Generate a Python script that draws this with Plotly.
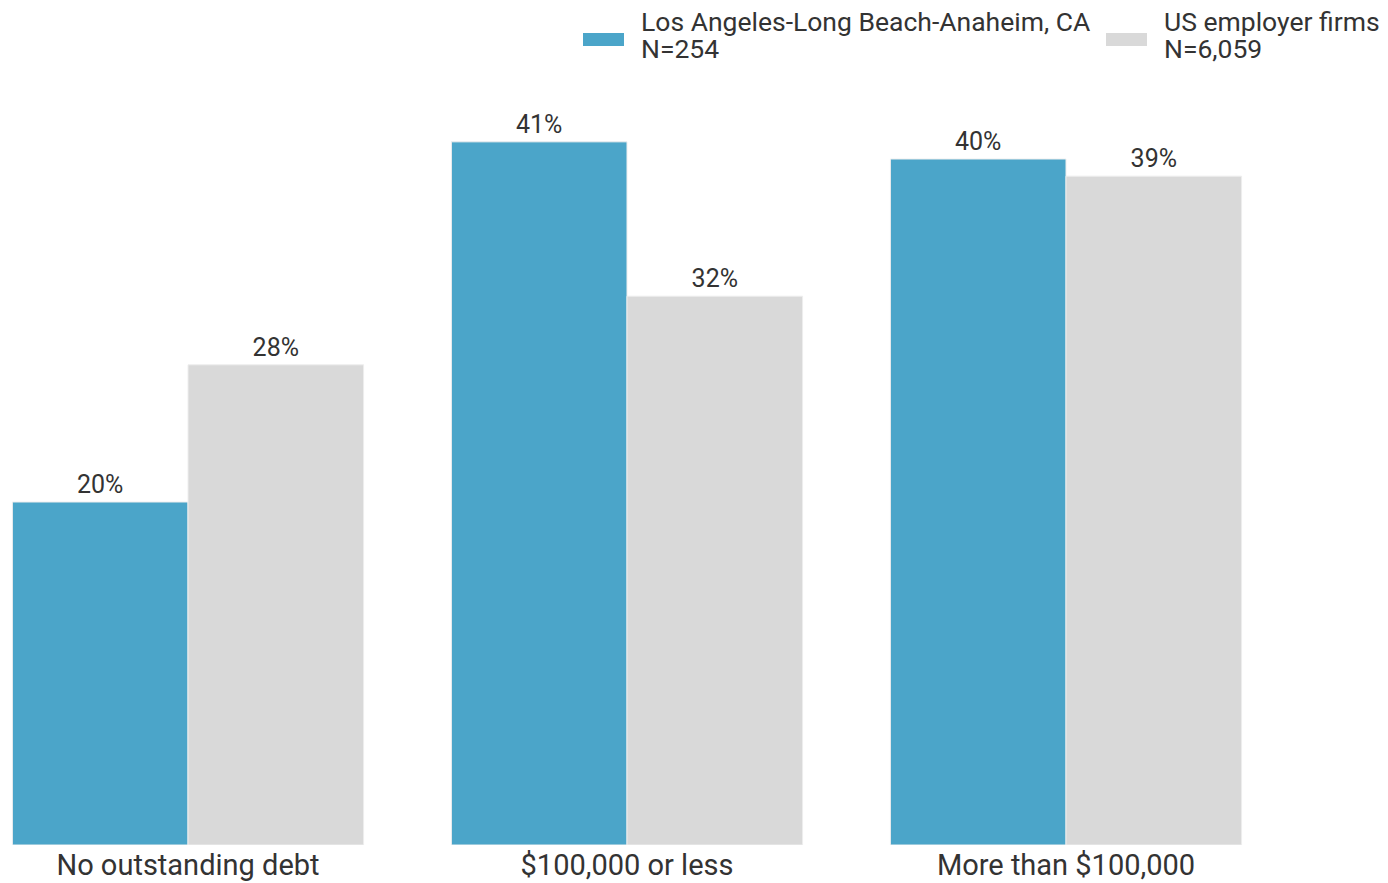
import plotly.graph_objects as go

categories = ["No outstanding debt", "$100,000 or less", "More than $100,000"]
series_names = ["Los Angeles-Long Beach-Anaheim, CA", "US employer firms"]
series_n = ["N=254", "N=6,059"]
la_values = [20, 41, 40]
us_values = [28, 32, 39]
colors = ["#4BA5C9", "#D9D9D9"]

FONT = "Roboto"
TXT = "#333333"

W, H = 1380, 875          # page body adds 8px offset
T, B = 72, 38
PH = H - T - B            # plot height in px
PX_PER_PCT = 17.15

def py(y):  # figure pixel y -> paper coordinate
    return (H - B - y) / PH

fig = go.Figure()
for name, vals, col in [(series_names[0], la_values, colors[0]), (series_names[1], us_values, colors[1])]:
    fig.add_trace(go.Bar(
        x=categories, y=vals, name=name,
        marker=dict(color=col, line=dict(color="#EEEEEE", width=1)),
        text=[f"{v}%" for v in vals], textposition="outside",
        textfont=dict(family=FONT, size=25, color=TXT),
        cliponaxis=False, showlegend=False,
    ))

# custom legend (wide swatches, two-line labels)
legend_x = [575, 1098]
for i in range(2):
    fig.add_shape(type="rect", xref="paper", yref="paper",
                  x0=legend_x[i] / W, x1=(legend_x[i] + 41) / W,
                  y0=py(38), y1=py(25),
                  fillcolor=colors[i], line=dict(width=0))
    for txt, yc in [(series_names[i], 13), (series_n[i], 41)]:
        fig.add_annotation(xref="paper", yref="paper", x=(legend_x[i] + 56) / W,
                           y=py(yc), xanchor="left", yanchor="middle",
                           text=txt, showarrow=False, align="left",
                           font=dict(family=FONT, size=26.5, color=TXT))

fig.update_layout(
    width=W, height=H,
    margin=dict(l=0, r=0, t=T, b=B),
    paper_bgcolor="white", plot_bgcolor="white",
    barmode="group", bargap=0.2, bargroupgap=0,
    font=dict(family=FONT, color=TXT),
    xaxis=dict(range=[-180 / 439, -180 / 439 + W / 439], showgrid=False, zeroline=False,
               showline=False, ticks="", tickfont=dict(family=FONT, size=29, color=TXT)),
    yaxis=dict(range=[0, PH / PX_PER_PCT], visible=False, showgrid=False),
    showlegend=False,
)
fig.write_html("out.html")
